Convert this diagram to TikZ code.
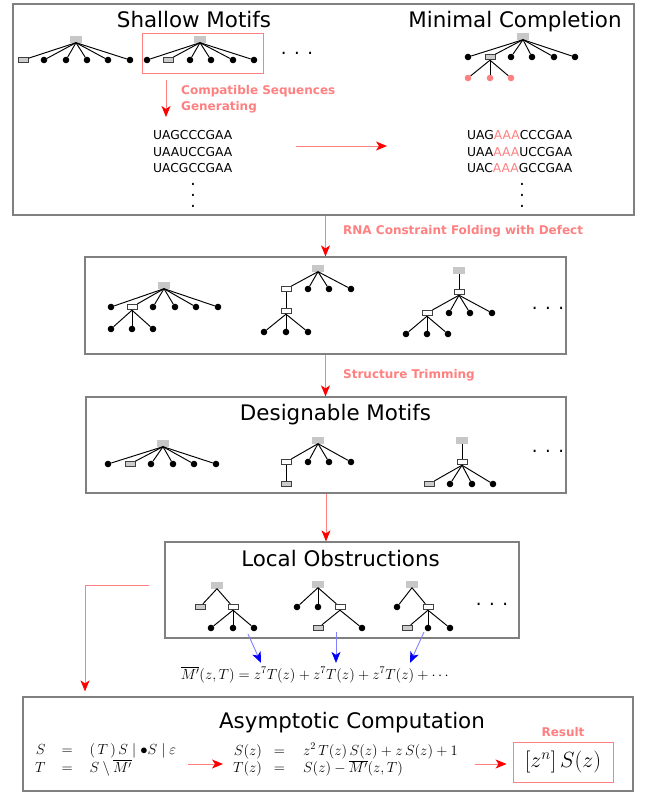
\RequirePackage{fix-cm}
\documentclass[tikz,border=0pt]{standalone}
\usepackage{amsmath,amssymb}
\usepackage[no-math]{fontspec}
\setmainfont{DejaVu Sans}
\usepackage{xcolor}
\usetikzlibrary{arrows.meta, positioning, calc}
\definecolor{pinkc}{RGB}{255,128,128}
\definecolor{framec}{RGB}{128,128,128}
\definecolor{bluec}{RGB}{128,128,255}

\begin{document}
\begin{tikzpicture}[
    x=1pt, y=-1pt,
    % Styles for the panels and their texts
    panel/.style={draw=framec, line width=1.2pt, inner sep=0pt},
    title/.style={font=\fontsize{21.4}{25}\selectfont, anchor=base},
    tag/.style={text=pinkc, font=\bfseries\fontsize{12}{15.5}\selectfont, anchor=base west, align=left, inner sep=0pt},
    seq/.style={font=\fontsize{12.3}{16}\selectfont, anchor=base west, inner sep=0pt},
    vdot/.style={font=\fontsize{17}{11}\selectfont, inner sep=0pt},
    etc/.style={font=\fontsize{18}{18}\selectfont, inner sep=0pt},
    eqs/.style={font=\fontsize{14.6}{16}\selectfont, inner sep=0pt},
    % Styles for the tree marks
    root/.style={rectangle, fill=black!22, minimum width=12.5pt, minimum height=7pt, inner sep=0pt},
    stem/.style={rectangle, draw=black!75, fill=white, line width=0.9pt, minimum width=10pt, minimum height=5.5pt, inner sep=0pt},
    loose/.style={stem, fill=black!20},
    leaf/.style={circle, fill=black, minimum size=6.6pt, inner sep=0pt},
    bond/.style={line width=0.95pt},
    % Styles for the connectors
    flow/.style={draw=pinkc, line width=0.9pt, -{Stealth[length=11pt, width=9pt, inset=3pt, color=red]}},
    feed/.style={draw=bluec, line width=0.9pt, -{Stealth[length=11pt, width=9pt, inset=3pt, color=blue]}}
]
    \useasboundingbox (0,0) rectangle (646,793);

    % 1. Shallow Motifs and their Minimal Completion
    \node[panel, minimum width=621pt, minimum height=211pt] (p1) at (323.5,109.5) {};
    \node[title] (shT) at (194,27) {Shallow Motifs};
    \node[title] (mcT) at (515,27) {Minimal Completion};

    % first shallow motif
    \node[root] (sh0) at (76,39) {};
    \node[loose] (sh1) at (23,60) {};
    \foreach \x [count=\i from 2] in {44,66,87,108,130}
        \node[leaf] (sh\i) at (\x,60) {};
    \foreach \i in {1,...,6}
        \draw[bond] (sh0.south) -- (sh\i);

    % picked shallow motif
    \node[root] (cs0) at (200,39) {};
    \node[leaf] (cs1) at (147,60) {};
    \node[loose] (cs2) at (168,60) {};
    \foreach \x [count=\i from 3] in {190,211,233,254}
        \node[leaf] (cs\i) at (\x,60) {};
    \foreach \i in {1,...,6}
        \draw[bond] (cs0.south) -- (cs\i);
    \node[draw=pinkc, line width=0.9pt, minimum width=121pt, minimum height=40pt] (pick) at (202.5,53) {};
    \node[etc] (sh-etc) at (297,53) {. . .};

    % completed motif
    \node[root] (mc0) at (523,36) {};
    \node[leaf] (mc1) at (468,57) {};
    \node[loose] (mc2) at (490,57) {};
    \foreach \x [count=\i from 3] in {511,532,554,575}
        \node[leaf] (mc\i) at (\x,57) {};
    \foreach \x [count=\i] in {468,490,511}
        \node[leaf, fill=pinkc] (mcg\i) at (\x,78) {};
    \foreach \i in {1,...,6}
        \draw[bond] (mc0.south) -- (mc\i);
    \foreach \i in {1,2,3}
        \draw[bond] (mc2.south) -- (mcg\i);

    % sequences
    \coordinate (gen) at (166,117);
    \draw[flow, shorten <=7pt] (pick.south -| gen) -- (gen);
    \node[tag] (genT) at (181,110) {Compatible Sequences\\Generating};
    \foreach \s [count=\i] in {UAGCCCGAA, UAAUCCGAA, UACGCCGAA}
        \node[seq] (sl\i) at (153,123+16.5*\i) {\s};
    \foreach \a/\b [count=\i] in {UAG/CCCGAA, UAA/UCCGAA, UAC/GCCGAA}
        \node[seq] (sr\i) at (467,123+16.5*\i) {\a\textcolor{pinkc}{AAA}\b};
    \node[vdot] (slv) at (193,195) {\vbox{\baselineskip=11pt\lineskiplimit=0pt\hbox{.}\hbox{.}\hbox{.}}};
    \node[vdot] (srv) at (522,195) {\vbox{\baselineskip=11pt\lineskiplimit=0pt\hbox{.}\hbox{.}\hbox{.}}};
    \draw[flow, shorten <=63.5pt, shorten >=80pt] ([yshift=5.5pt]sl2.east) -- ([yshift=5.5pt]sr2.west);

    % 2. Folded structures
    \node[panel, minimum width=481pt, minimum height=97pt] (p2) at (325.5,305.5) {};
    \draw[flow] (p2.north |- p1.south) -- (p2.north);
    \node[tag] (foldT) at (343,234) {RNA Constraint Folding with Defect};

    \node[root] (fa0) at (164,285) {};
    \node[leaf] (fa1) at (111,307) {};
    \node[stem] (fa2) at (132,307) {};
    \foreach \x [count=\i from 3] in {153,175,196,218}
        \node[leaf] (fa\i) at (\x,307) {};
    \foreach \x [count=\i] in {111,132,153}
        \node[leaf] (fag\i) at (\x,329) {};
    \foreach \i in {1,...,6}
        \draw[bond] (fa0.south) -- (fa\i);
    \foreach \i in {1,2,3}
        \draw[bond] (fa2.south) -- (fag\i);

    \node[root] (fb0) at (318,268) {};
    \node[stem] (fb1) at (286,289) {};
    \foreach \x [count=\i from 2] in {308,329,351}
        \node[leaf] (fb\i) at (\x,289) {};
    \node[stem] (fb5) at (286,311) {};
    \foreach \x [count=\i] in {264,286,308}
        \node[leaf] (fbg\i) at (\x,332) {};
    \foreach \i in {1,...,4}
        \draw[bond] (fb0.south) -- (fb\i);
    \draw[bond] (fb1) -- (fb5);
    \foreach \i in {1,2,3}
        \draw[bond] (fb5.south) -- (fbg\i);

    \node[root] (fc0) at (459,270) {};
    \node[stem] (fc1) at (459,292) {};
    \node[stem] (fc2) at (427,313) {};
    \foreach \x [count=\i from 3] in {449,470,492}
        \node[leaf] (fc\i) at (\x,313) {};
    \foreach \x [count=\i] in {406,427,448}
        \node[leaf] (fcg\i) at (\x,334) {};
    \draw[bond] (fc0) -- (fc1);
    \foreach \i in {2,...,5}
        \draw[bond] (fc1.south) -- (fc\i);
    \foreach \i in {1,2,3}
        \draw[bond] (fc2.south) -- (fcg\i);
    \node[etc] (f-etc) at (548,308) {. . .};

    % 3. Designable Motifs
    \node[panel, minimum width=480pt, minimum height=96pt] (p3) at (326,445) {};
    \draw[flow] (p2.south) -- (p2.south |- p3.north);
    \node[tag] (trimT) at (343,378) {Structure Trimming};
    \node[title] (dmT) at (335.5,420) {Designable Motifs};

    \node[root] (da0) at (163,443) {};
    \node[leaf] (da1) at (108,464) {};
    \node[loose] (da2) at (130,464) {};
    \foreach \x [count=\i from 3] in {151,173,194,216}
        \node[leaf] (da\i) at (\x,464) {};
    \foreach \i in {1,...,6}
        \draw[bond] (da0.south) -- (da\i);

    \node[root] (db0) at (318,440) {};
    \node[stem] (db1) at (286,462) {};
    \foreach \x [count=\i from 2] in {308,329,351}
        \node[leaf] (db\i) at (\x,462) {};
    \node[loose] (db5) at (286,484) {};
    \foreach \i in {1,...,4}
        \draw[bond] (db0.south) -- (db\i);
    \draw[bond] (db1) -- (db5);

    \node[root] (dc0) at (462,440) {};
    \node[stem] (dc1) at (462,462) {};
    \node[loose] (dc2) at (429,484) {};
    \foreach \x [count=\i from 3] in {450,472,493}
        \node[leaf] (dc\i) at (\x,484) {};
    \draw[bond] (dc0) -- (dc1);
    \foreach \i in {2,...,5}
        \draw[bond] (dc1.south) -- (dc\i);
    \node[etc] (d-etc) at (548,451) {. . .};

    % 4. Local Obstructions
    \node[panel, minimum width=354pt, minimum height=96pt] (p4) at (342,590) {};
    \draw[flow] (p3.south) -- (p3.south |- p4.north);
    \node[title] (loT) at (340.5,566) {Local Obstructions};

    \node[root] (la0) at (217,585) {};
    \node[loose] (la1) at (200,607) {};
    \node[stem] (la2) at (233,607) {};
    \foreach \x [count=\i] in {211,233,254}
        \node[leaf] (lag\i) at (\x,628) {};
    \foreach \i in {1,2}
        \draw[bond] (la0.south) -- (la\i);
    \foreach \i in {1,2,3}
        \draw[bond] (la2.south) -- (lag\i);

    \node[root] (lb0) at (318,584) {};
    \node[leaf] (lb1) at (297,607) {};
    \node[leaf] (lb2) at (318,607) {};
    \node[stem] (lb3) at (340,607) {};
    \node[loose] (lbg1) at (318,628) {};
    \node[leaf] (lbg2) at (362,628) {};
    \foreach \i in {1,2,3}
        \draw[bond] (lb0.south) -- (lb\i);
    \foreach \i in {1,2}
        \draw[bond] (lb3.south) -- (lbg\i);

    \node[root] (lc0) at (412,584) {};
    \node[leaf] (lc1) at (397,607) {};
    \node[stem] (lc2) at (428,607) {};
    \node[loose] (lcg1) at (407,628) {};
    \node[leaf] (lcg2) at (428,628) {};
    \node[leaf] (lcg3) at (450,628) {};
    \foreach \i in {1,2}
        \draw[bond] (lc0.south) -- (lc\i);
    \foreach \i in {1,2,3}
        \draw[bond] (lc2.south) -- (lcg\i);
    \node[etc] (l-etc) at (492,604) {. . .};

    % generating function of the obstructions
    \node[eqs, anchor=base, inner sep=3pt] (mbar) at (316,679)
        {$\overline{M'}(z,T) = z^7T(z) + z^7T(z) + z^7T(z) + \cdots$};
    \coordinate (oA) at (248,634);
    \coordinate (oB) at (336,632);
    \coordinate (oC) at (424,632);
    \draw[feed] (oA) -- ([xshift=-55pt]mbar.north);
    \draw[feed] (oB) -- ([xshift=20pt]mbar.north);
    \draw[feed] (oC) -- ([xshift=94pt]mbar.north);

    % 5. Asymptotic Computation
    \node[panel, minimum width=610pt, minimum height=94pt] (p5) at (328,744) {};
    \coordinate (lbend) at (85,585);
    \draw[flow, shorten >=5pt] ([xshift=-15pt,yshift=5pt]p4.west) -- (lbend) -- (lbend |- p5.north);
    \node[title] (acT) at (352,728) {Asymptotic Computation};

    \node[eqs, anchor=west] (gram) at (35,760.5)
        {$\begin{array}{@{}r@{\hspace{16pt}}c@{\hspace{17pt}}l@{}}
          S & = & (\,T\,)\,S \mid \bullet S \mid \varepsilon\\
          T & = & S \setminus \overline{M'}
        \end{array}$};
    \node[eqs, anchor=west] (gf) at (233,760.5)
        {$\begin{array}{@{}r@{\hspace{12pt}}c@{\hspace{18pt}}l@{}}
          S(z) & = & z^2\,T(z)\,S(z) + z\,S(z) + 1\\
          T(z) & = & S(z) - \overline{M'}(z,T)
        \end{array}$};
    \node[tag, anchor=base] (resT) at (563,736) {Result};
    \node[draw=pinkc, line width=0.9pt, minimum width=100pt, minimum height=40pt,
          font=\fontsize{22}{26}\selectfont] (res) at (563,762) {$[z^n]\,S(z)$};
    \draw[flow, shorten <=12pt, shorten >=10pt] ([yshift=-3.5pt]gram.east) -- ([yshift=-3.5pt]gf.west);
    \draw[flow, shorten <=17pt, shorten >=6pt] ([yshift=-3.5pt]gf.east) -- ([yshift=-2pt]res.west);

\end{tikzpicture}
\end{document}
